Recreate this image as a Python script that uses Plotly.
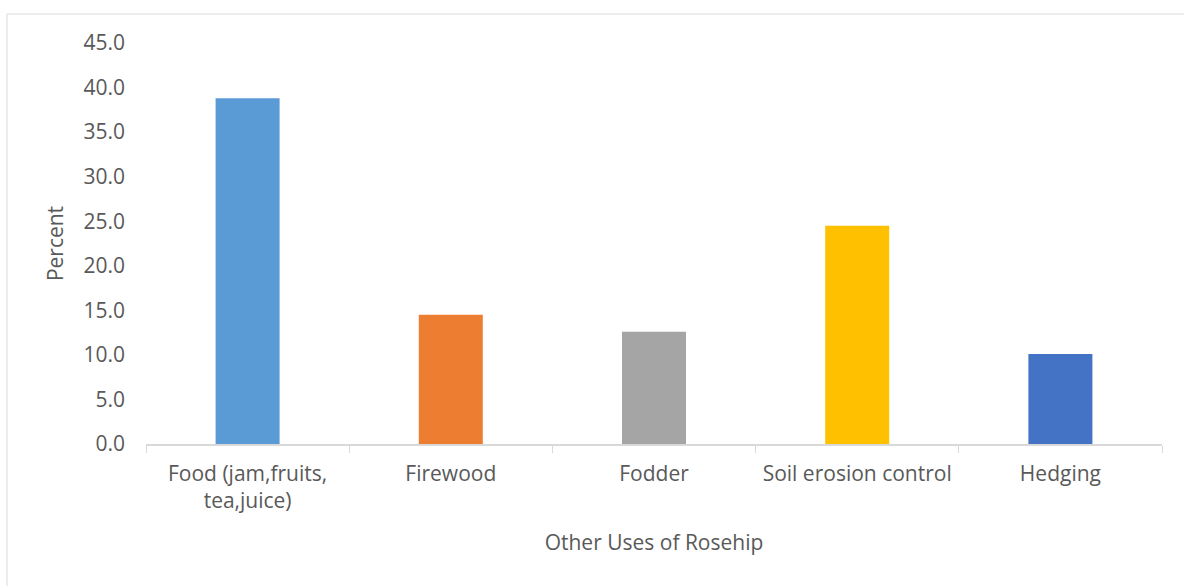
import plotly.graph_objects as go

categories = ["Food (jam,fruits,<br>tea,juice)", "Firewood", "Fodder", "Soil erosion control", "Hedging"]
values = [38.8, 14.5, 12.6, 24.5, 10.1]
colors = ["#5B9BD5", "#ED7D31", "#A5A5A5", "#FFC000", "#4472C4"]
y_ticks = [0, 5, 10, 15, 20, 25, 30, 35, 40, 45]

fig = go.Figure(go.Bar(x=categories, y=values, marker=dict(color=colors, line=dict(width=0)),
                       showlegend=False))

font = dict(family="Open Sans", size=21, color="#595959")
fig.update_layout(
    width=1184, height=586,
    margin=dict(l=146, r=22, t=43, b=142),
    paper_bgcolor="white", plot_bgcolor="white",
    font=font,
    bargap=0.685,
    xaxis=dict(showline=True, linecolor="#D9D9D9", linewidth=1.5,
               ticks="outside", tickson="boundaries", ticklen=7, tickcolor="#D9D9D9",
               ticklabelstandoff=10,
               title=dict(text="Other Uses of Rosehip", font=font, standoff=22),
               tickfont=font, showgrid=False),
    yaxis=dict(range=[0, 45], tickvals=y_ticks, tickformat=".1f", showgrid=False,
               zeroline=False, showline=False, ticks="", ticklabelstandoff=20,
               title=dict(text="Percent", font=font, standoff=14), tickfont=font),
    shapes=[
        dict(type="line", xref="paper", yref="paper", x0=-0.1368, x1=1.1, y0=1.0723, y1=1.0723,
             line=dict(color="#D9D9D9", width=1)),
        dict(type="line", xref="paper", yref="paper", x0=-0.1368, x1=-0.1368, y0=1.0723, y1=-0.5,
             line=dict(color="#D9D9D9", width=1)),
    ],
)

fig.write_html("out.html")
